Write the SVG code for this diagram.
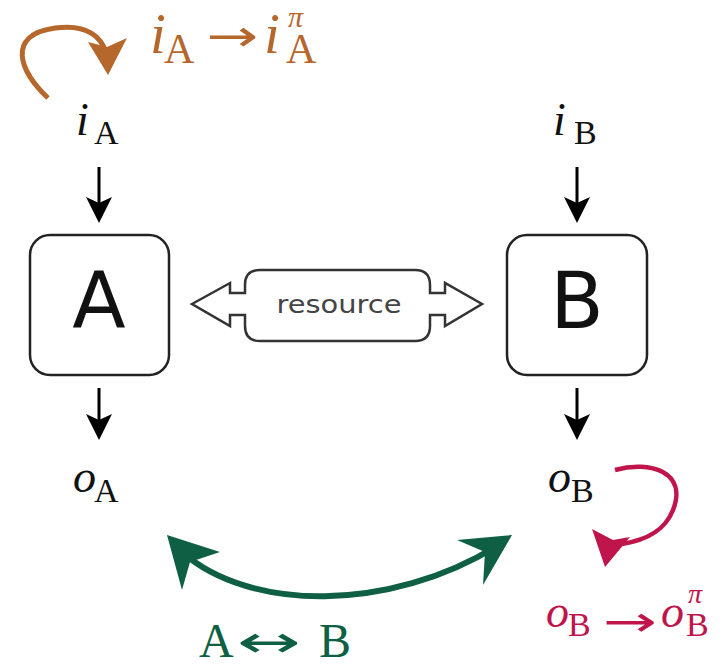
<svg xmlns="http://www.w3.org/2000/svg" width="724" height="666" viewBox="0 0 724 666">
<style>
.m{font-family:"Liberation Serif","DejaVu Serif",serif;}
.it{font-style:italic;font-size:46px;}
.sub{font-size:34px;}
.arw{font-family:"DejaVu Sans",sans-serif;}
.blk{fill:#111;}
.box{fill:#fff;stroke:#222;stroke-width:2.5;}
.big{font-family:"DejaVu Sans","Liberation Sans",sans-serif;font-size:78px;fill:#111;text-anchor:middle;}
.ar{stroke:#000;stroke-width:3;fill:none;}
.hd{fill:#000;}
.br{fill:#b5672c;}
.rd{fill:#c0144c;}
.gr{fill:#0f5f45;}
</style>
<rect width="724" height="666" fill="#fff"/>
<g id="connectors">
  <line class="ar" x1="99" y1="167" x2="99" y2="205"/>
  <path class="hd" d="M86,197 L99,223 L112,197 L99,203 Z"/>
  <line class="ar" x1="577" y1="167" x2="577" y2="205"/>
  <path class="hd" d="M564,197 L577,223 L590,197 L577,203 Z"/>
  <line class="ar" x1="99" y1="388" x2="99" y2="422"/>
  <path class="hd" d="M86,414 L99,440 L112,414 L99,420 Z"/>
  <line class="ar" x1="577" y1="388" x2="577" y2="422"/>
  <path class="hd" d="M564,414 L577,440 L590,414 L577,420 Z"/>
  <path d="M192,304 L230,283 L230,293 L245,293 L245,285 Q245,270 260,270 L415,270 Q430,270 430,285 L430,293 L445,293 L445,283 L482,304 L445,326 L445,315 L430,315 L430,326 Q430,341 415,341 L260,341 Q245,341 245,326 L245,315 L230,315 L230,326 Z" fill="#fff" stroke="#333" stroke-width="2.5" stroke-linejoin="miter"/>
  <path d="M48,98 C 20,72 5,35 55,28 C 85,24 100,35 106,52" fill="none" stroke="#b5672c" stroke-width="5"/>
  <path class="br" d="M88,42 L108,75 L127,38 L107,47 Z"/>
  <path d="M615,470 C 650,460 688,472 673,510 C 665,530 648,540 622,544" fill="none" stroke="#c0144c" stroke-width="4.5"/>
  <path class="rd" d="M592,529 L605,567 L630,537 L613,540 Z"/>
  <path d="M182,552 C 250,612 390,612 497,546" fill="none" stroke="#0f5f45" stroke-width="6"/>
  <path class="gr" d="M167,535 L182,590 L190,562 L220,552 Z"/>
  <path class="gr" d="M512,535 L457,540 L485,552 L483,585 Z"/>
</g>
<g id="nodeA">
  <rect class="box" x="30" y="235" width="139" height="140" rx="20"/>
  <text class="big" x="99" y="328">A</text>
</g>
<g id="nodeB">
  <rect class="box" x="507" y="235" width="140" height="140" rx="20"/>
  <text class="big" x="577" y="328">B</text>
</g>
<g id="resource">
  <text x="339" y="313" font-family="DejaVu Sans,sans-serif" font-size="24" fill="#444" text-anchor="middle" textLength="125" lengthAdjust="spacingAndGlyphs">resource</text>
</g>
<g id="iA" class="m blk">
  <text class="it" x="76" y="135">i</text>
  <text class="sub" x="94" y="144">A</text>
</g>
<g id="iB" class="m blk">
  <text class="it" x="553" y="135">i</text>
  <text class="sub" x="574" y="144">B</text>
</g>
<g id="oA" class="m blk">
  <text class="it" x="73" y="492">o</text>
  <text class="sub" x="94" y="502">A</text>
</g>
<g id="oB" class="m blk">
  <text class="it" x="548" y="492">o</text>
  <text class="sub" x="571" y="502">B</text>
</g>
<g id="titleA" class="m br">
  <text x="150" y="53" font-style="italic" font-size="57">i</text>
  <text x="164" y="63" font-size="42">A</text>
  <text class="arw" x="206" y="51" font-size="44" textLength="52" lengthAdjust="spacingAndGlyphs">→</text>
  <text x="264" y="53" font-style="italic" font-size="57">i</text>
  <text x="288" y="27" font-style="italic" font-size="30">π</text>
  <text x="286" y="63" font-size="42">A</text>
</g>
<g id="titleB" class="m rd">
  <text class="it" x="546" y="627">o</text>
  <text class="sub" x="568" y="636">B</text>
  <text class="arw" x="603" y="636" font-size="42" textLength="54" lengthAdjust="spacingAndGlyphs">→</text>
  <text class="it" x="661" y="627">o</text>
  <text x="688" y="603" font-style="italic" font-size="28">π</text>
  <text class="sub" x="686" y="636">B</text>
</g>
<g id="swap" class="m gr">
  <text x="199" y="657" font-size="48">A</text>
  <text class="arw" x="237" y="657" font-size="44" textLength="64" lengthAdjust="spacingAndGlyphs">↔</text>
  <text x="319" y="657" font-size="48">B</text>
</g>
</svg>
